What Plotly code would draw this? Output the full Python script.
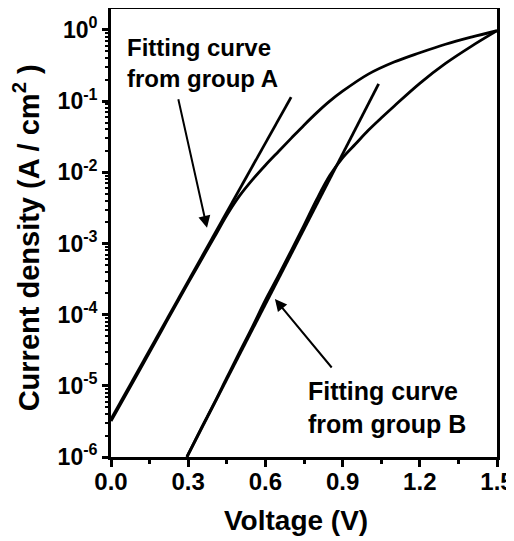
import plotly.graph_objects as go

# Measured J-V data (A/cm^2)
voltage_a = [0.0, 0.1, 0.2, 0.3, 0.4, 0.45, 0.5, 0.55, 0.6, 0.65, 0.7, 0.75, 0.8, 0.85, 0.9,
             1.0, 1.1, 1.2, 1.3, 1.4, 1.5]
current_a = [3.2e-6, 1.4e-5, 6.3e-5, 2.8e-4, 1.2e-3, 2.5e-3, 4.7e-3, 7.9e-3, 1.26e-2, 1.95e-2,
             3.0e-2, 4.6e-2, 6.9e-2, 0.100, 0.138, 0.240, 0.355, 0.479, 0.631, 0.794, 0.977]

voltage_b = [0.295, 0.35, 0.4, 0.45, 0.5, 0.55, 0.6, 0.65, 0.7, 0.75, 0.8, 0.85, 0.9, 0.95, 1.0,
             1.05, 1.1, 1.2, 1.3, 1.4, 1.5]
current_b = [1.0e-6, 2.5e-6, 5.6e-6, 1.3e-5, 3.0e-5, 6.8e-5, 1.6e-4, 3.5e-4, 7.9e-4, 1.8e-3, 4.2e-3,
             9.0e-3, 1.6e-2, 2.5e-2, 3.9e-2, 5.8e-2, 8.5e-2, 0.178, 0.339, 0.589, 0.977]

# Fitting lines (straight in log space)
fit_a_voltage = [0.0, 0.70]
fit_a_current = [3.4e-6, 0.114]
fit_b_voltage = [0.295, 1.04]
fit_b_current = [1.0e-6, 0.175]

x_tick_vals = [0.0, 0.3, 0.6, 0.9, 1.2, 1.5]
x_tick_text = ["0.0", "0.3", "0.6", "0.9", "1.2", "1.5"]
y_tick_vals = [1e-6, 1e-5, 1e-4, 1e-3, 1e-2, 1e-1, 1e0]
y_tick_text = ["10<sup>-6</sup>", "10<sup>-5</sup>", "10<sup>-4</sup>", "10<sup>-3</sup>",
               "10<sup>-2</sup>", "10<sup>-1</sup>", "10<sup>0</sup>"]

FONT = "Liberation Sans, Arial, sans-serif"
line_style = dict(color="black", width=2.8)

fig = go.Figure()
for xs, ys in [(voltage_a, current_a), (voltage_b, current_b),
               (fit_a_voltage, fit_a_current), (fit_b_voltage, fit_b_current)]:
    fig.add_trace(go.Scatter(x=xs, y=ys, mode="lines", line=line_style,
                             line_shape="spline", showlegend=False, hoverinfo="skip"))

# The page body has an 8px margin, so the figure is sized to fit the 514x541 window.
fig.update_layout(
    width=506, height=534,
    margin=dict(l=103, r=17, t=1, b=85),
    paper_bgcolor="white", plot_bgcolor="white",
    font=dict(family=FONT, color="black", size=22, weight="bold"),
    showlegend=False,
)

fig.update_xaxes(
    range=[0, 1.5], tickvals=x_tick_vals, ticktext=x_tick_text, automargin=False,
    ticks="outside", ticklen=7, tickwidth=2.5, tickcolor="black", ticklabelstandoff=-6,
    minor=dict(dtick=0.15, tick0=0, ticks="outside", ticklen=4, tickwidth=2.5, tickcolor="black"),
    showline=True, linecolor="black", linewidth=2.8, mirror=True,
    showgrid=False, zeroline=False,
    tickfont=dict(size=24, family=FONT, weight="bold"),
)

fig.update_yaxes(
    type="log", range=[-6, 0.295], tickvals=y_tick_vals, ticktext=y_tick_text, automargin=False,
    ticks="outside", ticklen=6, tickwidth=2.5, tickcolor="black",
    minor=dict(dtick="D1", ticks="outside", ticklen=3, tickwidth=1.5, tickcolor="black"),
    showline=True, linecolor="black", linewidth=2.8, mirror=True,
    showgrid=False, zeroline=False,
    tickfont=dict(size=23, family=FONT, weight="bold"),
)

# axis titles
fig.add_annotation(x=0.479, y=-0.141, xref="paper", yref="paper", xanchor="center", yanchor="middle",
                   text="Voltage (V)", showarrow=False,
                   font=dict(size=28, family=FONT, weight="bold"))
fig.add_annotation(x=-0.218, y=0.49, xref="paper", yref="paper", xanchor="center", yanchor="middle",
                   text="Current density (A / cm<sup>2</sup> )", showarrow=False, textangle=-90,
                   borderpad=0, font=dict(size=29, family=FONT, weight="bold"))

# labels
fig.add_annotation(x=0.036, y=0.88, xref="paper", yref="paper", xanchor="left", yanchor="middle",
                   text="Fitting curve<br>from group A", showarrow=False, align="left",
                   font=dict(size=24, family=FONT, weight="bold"))
fig.add_annotation(x=0.505, y=0.11, xref="paper", yref="paper", xanchor="left", yanchor="middle",
                   text="Fitting curve<br>from group B", showarrow=False, align="left",
                   font=dict(size=25, family=FONT, weight="bold"))

# arrows pointing at fitted lines
fig.add_annotation(x=0.373, y=-2.78, xref="x", yref="y", text="", showarrow=True,
                   ax=-29, ay=-130, arrowhead=2, arrowsize=1.2, arrowwidth=2, arrowcolor="black")
fig.add_annotation(x=0.637, y=-3.78, xref="x", yref="y", text="", showarrow=True,
                   ax=58, ay=70, arrowhead=2, arrowsize=1.2, arrowwidth=2, arrowcolor="black")

fig.write_html("out.html")
